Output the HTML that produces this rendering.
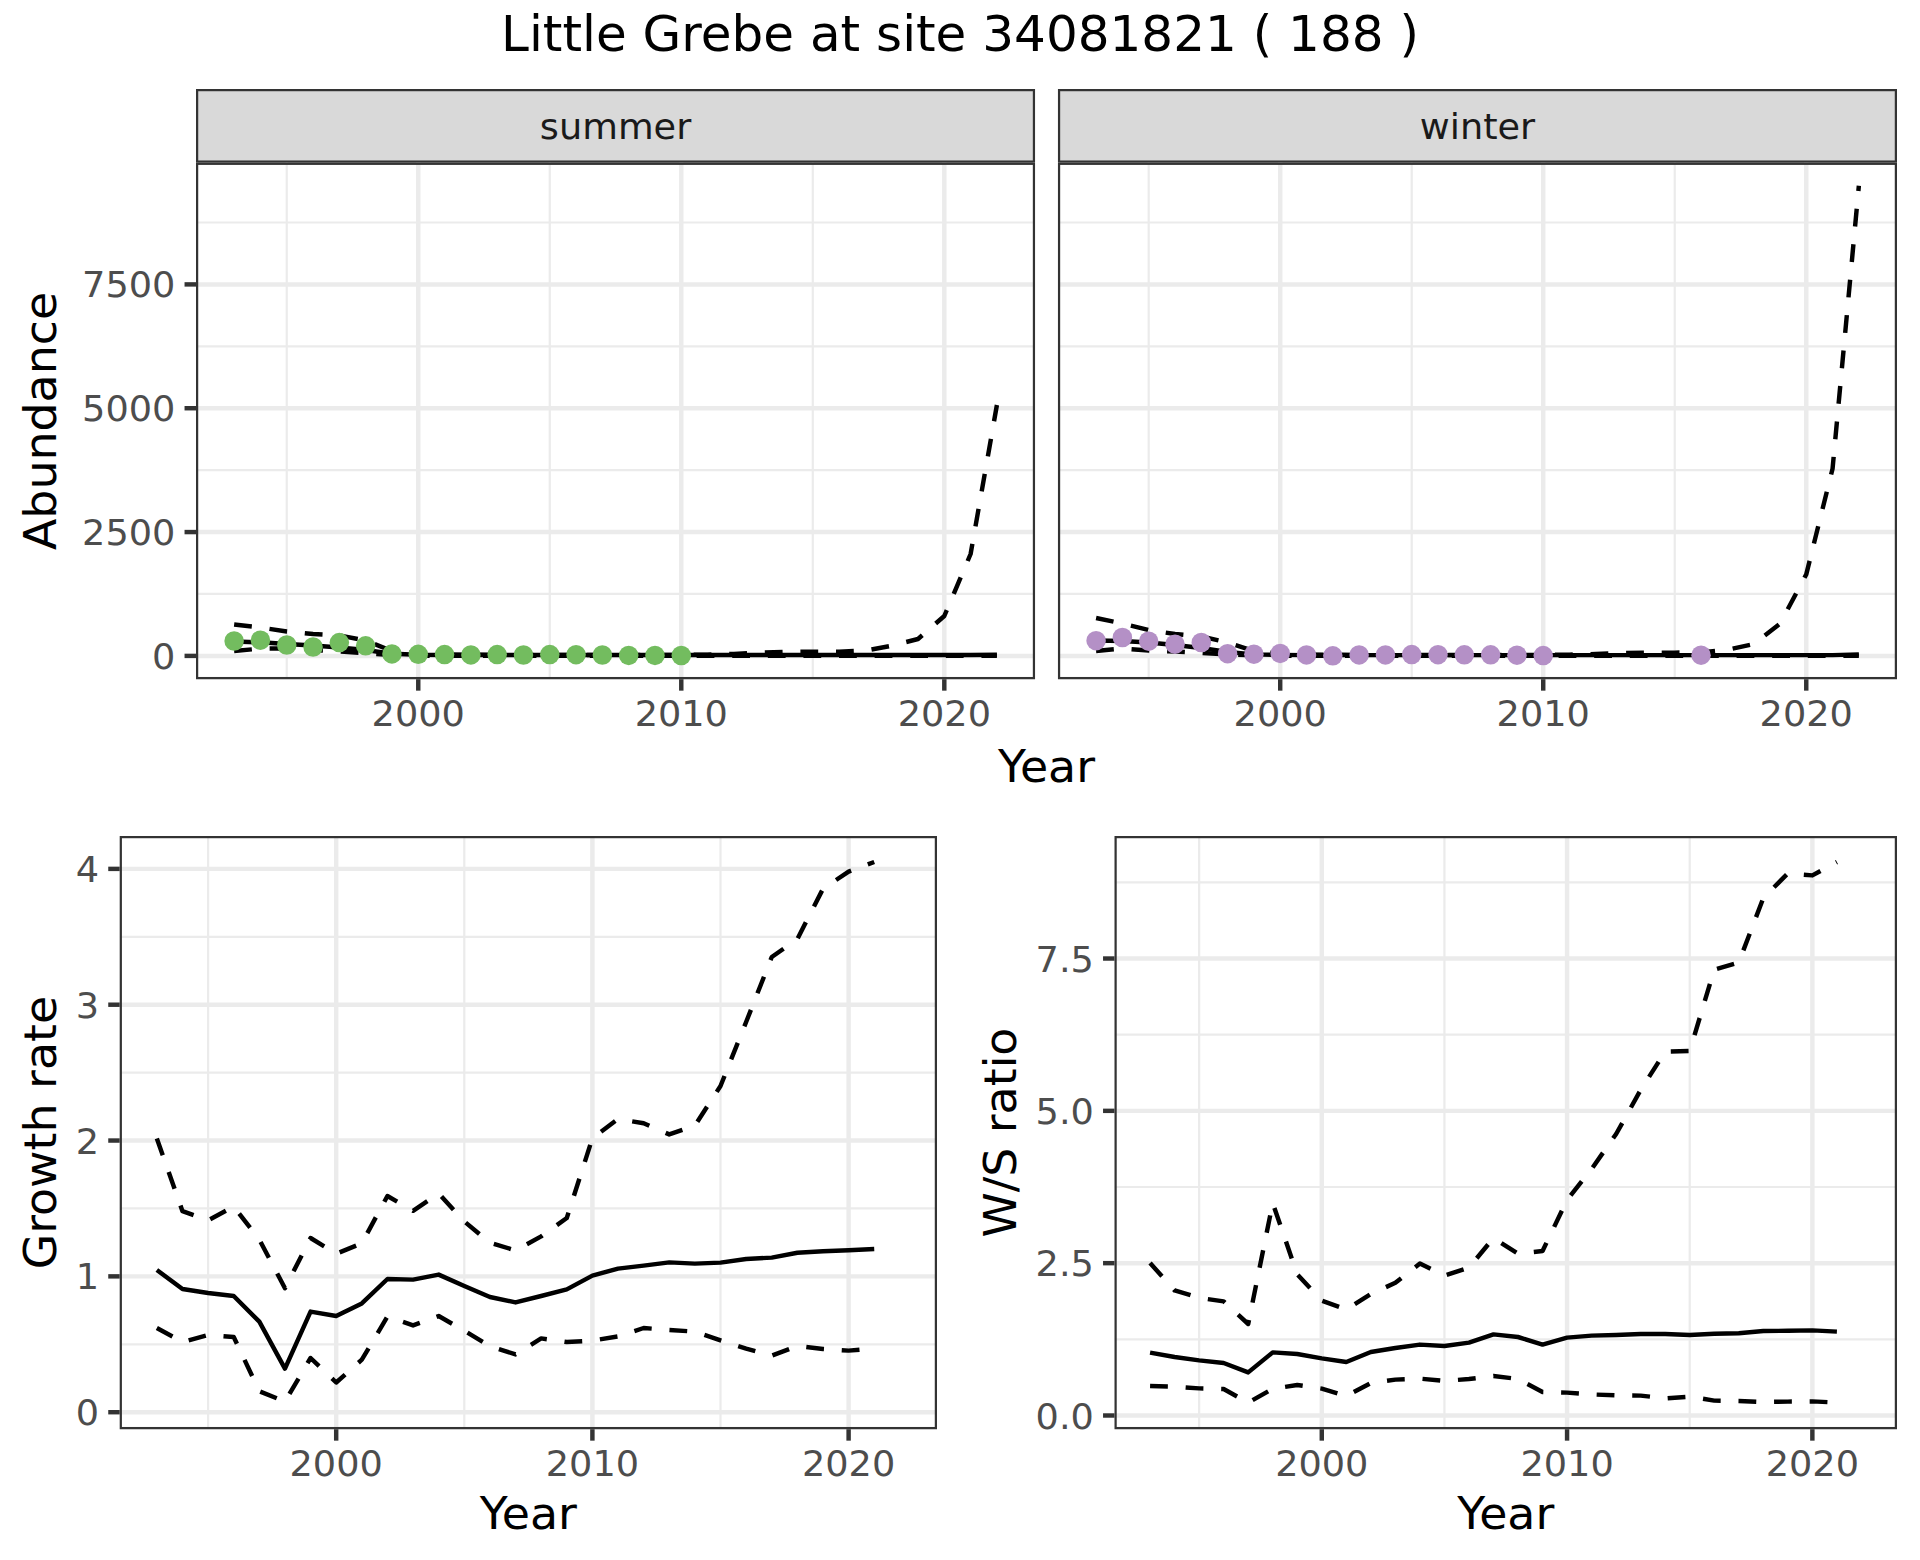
<!DOCTYPE html>
<html lang="en">
<head>
<meta charset="utf-8">
<title>Little Grebe at site 34081821 ( 188 )</title>
<style>
html,body{margin:0;padding:0;background:#fff;}
body{width:1920px;height:1560px;overflow:hidden;}
svg{display:block;}
text{font-family:'DejaVu Sans','Liberation Sans',sans-serif;}
</style>
</head>
<body>
<svg width="1920" height="1560" viewBox="0 0 1920 1560" font-family="'DejaVu Sans','Liberation Sans',sans-serif">
<rect width="1920" height="1560" fill="#fff"/>
<text x="960" y="51" font-size="50" fill="#000" text-anchor="middle">Little Grebe at site 34081821 ( 188 )</text>
<clipPath id="c1"><rect x="196" y="89" width="839.05" height="73.7"/></clipPath>
<rect x="196" y="89" width="839.05" height="73.7" fill="#D9D9D9" stroke="#333333" stroke-width="4.45" clip-path="url(#c1)"/>
<text transform="translate(615.52 138.5) scale(1 0.965)" font-size="36.67" fill="#1A1A1A" text-anchor="middle">summer</text>
<clipPath id="c2"><rect x="196" y="162.7" width="839.05" height="516.5"/></clipPath>
<g clip-path="url(#c2)">
<rect x="196" y="162.7" width="839.05" height="516.5" fill="#fff"/>
<line x1="196" x2="1035.05" y1="593.98" y2="593.98" stroke="#EBEBEB" stroke-width="2.22"/>
<line x1="196" x2="1035.05" y1="470.15" y2="470.15" stroke="#EBEBEB" stroke-width="2.22"/>
<line x1="196" x2="1035.05" y1="346.32" y2="346.32" stroke="#EBEBEB" stroke-width="2.22"/>
<line x1="196" x2="1035.05" y1="222.49" y2="222.49" stroke="#EBEBEB" stroke-width="2.22"/>
<line x1="286.74" x2="286.74" y1="162.7" y2="679.2" stroke="#EBEBEB" stroke-width="2.22"/>
<line x1="549.77" x2="549.77" y1="162.7" y2="679.2" stroke="#EBEBEB" stroke-width="2.22"/>
<line x1="812.79" x2="812.79" y1="162.7" y2="679.2" stroke="#EBEBEB" stroke-width="2.22"/>
<line x1="196" x2="1035.05" y1="655.9" y2="655.9" stroke="#EBEBEB" stroke-width="4.45"/>
<line x1="196" x2="1035.05" y1="532.07" y2="532.07" stroke="#EBEBEB" stroke-width="4.45"/>
<line x1="196" x2="1035.05" y1="408.23" y2="408.23" stroke="#EBEBEB" stroke-width="4.45"/>
<line x1="196" x2="1035.05" y1="284.4" y2="284.4" stroke="#EBEBEB" stroke-width="4.45"/>
<line x1="418.26" x2="418.26" y1="162.7" y2="679.2" stroke="#EBEBEB" stroke-width="4.45"/>
<line x1="681.28" x2="681.28" y1="162.7" y2="679.2" stroke="#EBEBEB" stroke-width="4.45"/>
<line x1="944.31" x2="944.31" y1="162.7" y2="679.2" stroke="#EBEBEB" stroke-width="4.45"/>
<path d="M234.14 641.5 L260.44 642.3 L286.74 644 L313.05 645.5 L339.35 647.5 L365.65 650 L391.95 653.7 L418.26 654.8 L444.56 655 L470.86 655 L497.16 655 L523.47 655 L549.77 655 L576.07 655 L602.37 655 L628.68 655 L654.98 655 L681.28 655 L707.58 655 L733.89 655 L760.19 655 L786.49 655 L812.79 655 L839.1 655 L865.4 655 L891.7 655 L918 655 L944.31 655 L970.61 655 L996.91 654.8" fill="none" stroke="#000" stroke-width="4.45" stroke-linejoin="round"/>
<path d="M234.14 651 L260.44 648.6 L286.74 648.5 L313.05 650 L339.35 651.5 L365.65 653.2 L391.95 655 L418.26 655.6 L444.56 655.8 L470.86 655.8 L497.16 655.8 L523.47 655.8 L549.77 655.8 L576.07 655.8 L602.37 655.8 L628.68 655.8 L654.98 655.8 L681.28 655.8 L707.58 655.8 L733.89 655.8 L760.19 655.8 L786.49 655.8 L812.79 655.8 L839.1 655.8 L865.4 655.8 L891.7 655.8 L918 655.8 L944.31 655.8 L970.61 655.8 L996.91 655.8" fill="none" stroke="#000" stroke-width="4.45" stroke-linejoin="round" stroke-dasharray="17.8 17.8"/>
<path d="M234.14 624.5 L260.44 627.5 L286.74 631.5 L313.05 634 L339.35 635.5 L365.65 640.5 L391.95 651 L418.26 653.8 L444.56 654.5 L470.86 654.8 L497.16 654.9 L523.47 655 L549.77 655 L576.07 655 L602.37 655 L628.68 655 L654.98 655 L681.28 655 L707.58 654.6 L733.89 653.9 L760.19 652.6 L786.49 651.9 L812.79 651.6 L839.1 651.6 L865.4 650.6 L891.7 645.7 L918 639 L944.31 616 L970.61 554 L996.91 405" fill="none" stroke="#000" stroke-width="4.45" stroke-linejoin="round" stroke-dasharray="17.8 17.8"/>
<circle cx="234.14" cy="641" r="9.75" fill="#73BC5F"/>
<circle cx="260.44" cy="640.2" r="9.75" fill="#73BC5F"/>
<circle cx="286.74" cy="645" r="9.75" fill="#73BC5F"/>
<circle cx="313.05" cy="647" r="9.75" fill="#73BC5F"/>
<circle cx="339.35" cy="642.6" r="9.75" fill="#73BC5F"/>
<circle cx="365.65" cy="645.8" r="9.75" fill="#73BC5F"/>
<circle cx="391.95" cy="653.9" r="9.75" fill="#73BC5F"/>
<circle cx="418.26" cy="654.3" r="9.75" fill="#73BC5F"/>
<circle cx="444.56" cy="654.6" r="9.75" fill="#73BC5F"/>
<circle cx="470.86" cy="654.9" r="9.75" fill="#73BC5F"/>
<circle cx="497.16" cy="654.6" r="9.75" fill="#73BC5F"/>
<circle cx="523.47" cy="655" r="9.75" fill="#73BC5F"/>
<circle cx="549.77" cy="654.6" r="9.75" fill="#73BC5F"/>
<circle cx="576.07" cy="654.7" r="9.75" fill="#73BC5F"/>
<circle cx="602.37" cy="655" r="9.75" fill="#73BC5F"/>
<circle cx="628.68" cy="655.4" r="9.75" fill="#73BC5F"/>
<circle cx="654.98" cy="655.4" r="9.75" fill="#73BC5F"/>
<circle cx="681.28" cy="655.5" r="9.75" fill="#73BC5F"/>
<rect x="196" y="162.7" width="839.05" height="516.5" fill="none" stroke="#333333" stroke-width="4.45"/>
</g>
<line x1="418.26" x2="418.26" y1="679.2" y2="690.66" stroke="#333333" stroke-width="4.45"/>
<text transform="translate(418.26 725.5) scale(1 0.965)" font-size="36.67" fill="#4D4D4D" text-anchor="middle">2000</text>
<line x1="681.28" x2="681.28" y1="679.2" y2="690.66" stroke="#333333" stroke-width="4.45"/>
<text transform="translate(681.28 725.5) scale(1 0.965)" font-size="36.67" fill="#4D4D4D" text-anchor="middle">2010</text>
<line x1="944.31" x2="944.31" y1="679.2" y2="690.66" stroke="#333333" stroke-width="4.45"/>
<text transform="translate(944.31 725.5) scale(1 0.965)" font-size="36.67" fill="#4D4D4D" text-anchor="middle">2020</text>
<clipPath id="c3"><rect x="1057.95" y="89" width="839.05" height="73.7"/></clipPath>
<rect x="1057.95" y="89" width="839.05" height="73.7" fill="#D9D9D9" stroke="#333333" stroke-width="4.45" clip-path="url(#c3)"/>
<text transform="translate(1477.47 138.5) scale(1 0.965)" font-size="36.67" fill="#1A1A1A" text-anchor="middle">winter</text>
<clipPath id="c4"><rect x="1057.95" y="162.7" width="839.05" height="516.5"/></clipPath>
<g clip-path="url(#c4)">
<rect x="1057.95" y="162.7" width="839.05" height="516.5" fill="#fff"/>
<line x1="1057.95" x2="1897" y1="593.98" y2="593.98" stroke="#EBEBEB" stroke-width="2.22"/>
<line x1="1057.95" x2="1897" y1="470.15" y2="470.15" stroke="#EBEBEB" stroke-width="2.22"/>
<line x1="1057.95" x2="1897" y1="346.32" y2="346.32" stroke="#EBEBEB" stroke-width="2.22"/>
<line x1="1057.95" x2="1897" y1="222.49" y2="222.49" stroke="#EBEBEB" stroke-width="2.22"/>
<line x1="1148.69" x2="1148.69" y1="162.7" y2="679.2" stroke="#EBEBEB" stroke-width="2.22"/>
<line x1="1411.72" x2="1411.72" y1="162.7" y2="679.2" stroke="#EBEBEB" stroke-width="2.22"/>
<line x1="1674.74" x2="1674.74" y1="162.7" y2="679.2" stroke="#EBEBEB" stroke-width="2.22"/>
<line x1="1057.95" x2="1897" y1="655.9" y2="655.9" stroke="#EBEBEB" stroke-width="4.45"/>
<line x1="1057.95" x2="1897" y1="532.07" y2="532.07" stroke="#EBEBEB" stroke-width="4.45"/>
<line x1="1057.95" x2="1897" y1="408.23" y2="408.23" stroke="#EBEBEB" stroke-width="4.45"/>
<line x1="1057.95" x2="1897" y1="284.4" y2="284.4" stroke="#EBEBEB" stroke-width="4.45"/>
<line x1="1280.21" x2="1280.21" y1="162.7" y2="679.2" stroke="#EBEBEB" stroke-width="4.45"/>
<line x1="1543.23" x2="1543.23" y1="162.7" y2="679.2" stroke="#EBEBEB" stroke-width="4.45"/>
<line x1="1806.26" x2="1806.26" y1="162.7" y2="679.2" stroke="#EBEBEB" stroke-width="4.45"/>
<path d="M1096.09 640.5 L1122.39 641 L1148.69 642.5 L1175 645 L1201.3 648 L1227.6 652 L1253.9 654.4 L1280.21 654.9 L1306.51 655.1 L1332.81 655.1 L1359.11 655.1 L1385.42 655.1 L1411.72 655.1 L1438.02 655.1 L1464.32 655.1 L1490.63 655.1 L1516.93 655.1 L1543.23 655.1 L1569.53 655.1 L1595.84 655.1 L1622.14 655.1 L1648.44 655.1 L1674.74 655.1 L1701.05 655.1 L1727.35 655.1 L1753.65 655.1 L1779.95 655.1 L1806.26 655.1 L1832.56 655.1 L1858.86 654.4" fill="none" stroke="#000" stroke-width="4.45" stroke-linejoin="round"/>
<path d="M1096.09 651 L1122.39 648.5 L1148.69 650.5 L1175 651.5 L1201.3 653 L1227.6 654.5 L1253.9 655.4 L1280.21 655.7 L1306.51 655.8 L1332.81 655.8 L1359.11 655.8 L1385.42 655.8 L1411.72 655.8 L1438.02 655.8 L1464.32 655.8 L1490.63 655.8 L1516.93 655.8 L1543.23 655.8 L1569.53 655.8 L1595.84 655.8 L1622.14 655.8 L1648.44 655.8 L1674.74 655.8 L1701.05 655.8 L1727.35 655.8 L1753.65 655.8 L1779.95 655.8 L1806.26 655.8 L1832.56 655.8 L1858.86 655.8" fill="none" stroke="#000" stroke-width="4.45" stroke-linejoin="round" stroke-dasharray="17.8 17.8"/>
<path d="M1096.09 618 L1122.39 623.5 L1148.69 630 L1175 634 L1201.3 636.5 L1227.6 642.5 L1253.9 651 L1280.21 653.8 L1306.51 654.5 L1332.81 654.8 L1359.11 654.9 L1385.42 655 L1411.72 655 L1438.02 655 L1464.32 655 L1490.63 655 L1516.93 655 L1543.23 655 L1569.53 654.6 L1595.84 654 L1622.14 653 L1648.44 652.6 L1674.74 652.6 L1701.05 652.4 L1727.35 649.8 L1753.65 644 L1779.95 623.8 L1806.26 574.4 L1832.56 468.7 L1858.86 185.8" fill="none" stroke="#000" stroke-width="4.45" stroke-linejoin="round" stroke-dasharray="17.8 17.8"/>
<circle cx="1096.09" cy="640.7" r="9.75" fill="#B490C6"/>
<circle cx="1122.39" cy="637.5" r="9.75" fill="#B490C6"/>
<circle cx="1148.69" cy="641.2" r="9.75" fill="#B490C6"/>
<circle cx="1175" cy="644.2" r="9.75" fill="#B490C6"/>
<circle cx="1201.3" cy="642.5" r="9.75" fill="#B490C6"/>
<circle cx="1227.6" cy="653.7" r="9.75" fill="#B490C6"/>
<circle cx="1253.9" cy="654.2" r="9.75" fill="#B490C6"/>
<circle cx="1280.21" cy="653.4" r="9.75" fill="#B490C6"/>
<circle cx="1306.51" cy="654.9" r="9.75" fill="#B490C6"/>
<circle cx="1332.81" cy="655.8" r="9.75" fill="#B490C6"/>
<circle cx="1359.11" cy="654.9" r="9.75" fill="#B490C6"/>
<circle cx="1385.42" cy="654.9" r="9.75" fill="#B490C6"/>
<circle cx="1411.72" cy="654.6" r="9.75" fill="#B490C6"/>
<circle cx="1438.02" cy="654.7" r="9.75" fill="#B490C6"/>
<circle cx="1464.32" cy="654.8" r="9.75" fill="#B490C6"/>
<circle cx="1490.63" cy="654.8" r="9.75" fill="#B490C6"/>
<circle cx="1516.93" cy="655.2" r="9.75" fill="#B490C6"/>
<circle cx="1543.23" cy="655.6" r="9.75" fill="#B490C6"/>
<circle cx="1701.05" cy="655.2" r="9.75" fill="#B490C6"/>
<rect x="1057.95" y="162.7" width="839.05" height="516.5" fill="none" stroke="#333333" stroke-width="4.45"/>
</g>
<line x1="1280.21" x2="1280.21" y1="679.2" y2="690.66" stroke="#333333" stroke-width="4.45"/>
<text transform="translate(1280.21 725.5) scale(1 0.965)" font-size="36.67" fill="#4D4D4D" text-anchor="middle">2000</text>
<line x1="1543.23" x2="1543.23" y1="679.2" y2="690.66" stroke="#333333" stroke-width="4.45"/>
<text transform="translate(1543.23 725.5) scale(1 0.965)" font-size="36.67" fill="#4D4D4D" text-anchor="middle">2010</text>
<line x1="1806.26" x2="1806.26" y1="679.2" y2="690.66" stroke="#333333" stroke-width="4.45"/>
<text transform="translate(1806.26 725.5) scale(1 0.965)" font-size="36.67" fill="#4D4D4D" text-anchor="middle">2020</text>
<line x1="184.54" x2="196" y1="655.9" y2="655.9" stroke="#333333" stroke-width="4.45"/>
<text transform="translate(175.37 668.6) scale(1 0.965)" font-size="36.67" fill="#4D4D4D" text-anchor="end">0</text>
<line x1="184.54" x2="196" y1="532.07" y2="532.07" stroke="#333333" stroke-width="4.45"/>
<text transform="translate(175.37 544.6) scale(1 0.965)" font-size="36.67" fill="#4D4D4D" text-anchor="end">2500</text>
<line x1="184.54" x2="196" y1="408.23" y2="408.23" stroke="#333333" stroke-width="4.45"/>
<text transform="translate(175.37 420.6) scale(1 0.965)" font-size="36.67" fill="#4D4D4D" text-anchor="end">5000</text>
<line x1="184.54" x2="196" y1="284.4" y2="284.4" stroke="#333333" stroke-width="4.45"/>
<text transform="translate(175.37 296.6) scale(1 0.965)" font-size="36.67" fill="#4D4D4D" text-anchor="end">7500</text>
<text transform="translate(1046.5 782) scale(1 0.965)" font-size="45.83" fill="#000" text-anchor="middle">Year</text>
<text transform="translate(56.1 420.95) rotate(-90) scale(1 0.965)" font-size="45.83" fill="#000" text-anchor="middle">Abundance</text>
<clipPath id="c5"><rect x="119.7" y="836" width="817.3" height="593.2"/></clipPath>
<g clip-path="url(#c5)">
<rect x="119.7" y="836" width="817.3" height="593.2" fill="#fff"/>
<line x1="119.7" x2="937" y1="1344.29" y2="1344.29" stroke="#EBEBEB" stroke-width="2.22"/>
<line x1="119.7" x2="937" y1="1208.45" y2="1208.45" stroke="#EBEBEB" stroke-width="2.22"/>
<line x1="119.7" x2="937" y1="1072.62" y2="1072.62" stroke="#EBEBEB" stroke-width="2.22"/>
<line x1="119.7" x2="937" y1="936.8" y2="936.8" stroke="#EBEBEB" stroke-width="2.22"/>
<line x1="208.09" x2="208.09" y1="836" y2="1429.2" stroke="#EBEBEB" stroke-width="2.22"/>
<line x1="464.3" x2="464.3" y1="836" y2="1429.2" stroke="#EBEBEB" stroke-width="2.22"/>
<line x1="720.51" x2="720.51" y1="836" y2="1429.2" stroke="#EBEBEB" stroke-width="2.22"/>
<line x1="119.7" x2="937" y1="1412.2" y2="1412.2" stroke="#EBEBEB" stroke-width="4.45"/>
<line x1="119.7" x2="937" y1="1276.37" y2="1276.37" stroke="#EBEBEB" stroke-width="4.45"/>
<line x1="119.7" x2="937" y1="1140.54" y2="1140.54" stroke="#EBEBEB" stroke-width="4.45"/>
<line x1="119.7" x2="937" y1="1004.71" y2="1004.71" stroke="#EBEBEB" stroke-width="4.45"/>
<line x1="119.7" x2="937" y1="868.88" y2="868.88" stroke="#EBEBEB" stroke-width="4.45"/>
<line x1="336.19" x2="336.19" y1="836" y2="1429.2" stroke="#EBEBEB" stroke-width="4.45"/>
<line x1="592.4" x2="592.4" y1="836" y2="1429.2" stroke="#EBEBEB" stroke-width="4.45"/>
<line x1="848.61" x2="848.61" y1="836" y2="1429.2" stroke="#EBEBEB" stroke-width="4.45"/>
<path d="M156.85 1270 L182.47 1289 L208.09 1293 L233.71 1296 L259.33 1321.6 L284.95 1368.6 L310.57 1311.6 L336.19 1316 L361.82 1303.4 L387.44 1279 L413.06 1279.6 L438.68 1274.6 L464.3 1286 L489.92 1297 L515.54 1302.4 L541.16 1296 L566.78 1289.4 L592.4 1275.6 L618.02 1268.6 L643.64 1265.6 L669.26 1262.4 L694.88 1263.6 L720.51 1262.6 L746.13 1259 L771.75 1257.6 L797.37 1252.8 L822.99 1251.2 L848.61 1250.2 L874.23 1249" fill="none" stroke="#000" stroke-width="4.45" stroke-linejoin="round"/>
<path d="M156.85 1328 L182.47 1342 L208.09 1335 L233.71 1337 L259.33 1391.2 L284.95 1401.6 L310.57 1358 L336.19 1382.5 L361.82 1359.7 L387.44 1316.6 L413.06 1325.4 L438.68 1316 L464.3 1330.8 L489.92 1346.2 L515.54 1354.4 L541.16 1338.4 L566.78 1342 L592.4 1340.6 L618.02 1336.4 L643.64 1328 L669.26 1330 L694.88 1331.6 L720.51 1340.4 L746.13 1348.6 L771.75 1355.6 L797.37 1346 L822.99 1349 L848.61 1350.6 L874.23 1348.4" fill="none" stroke="#000" stroke-width="4.45" stroke-linejoin="round" stroke-dasharray="17.8 17.8"/>
<path d="M156.85 1138.4 L182.47 1211.2 L208.09 1220.4 L233.71 1206.6 L259.33 1239.6 L284.95 1288.2 L310.57 1238 L336.19 1253.8 L361.82 1243.3 L387.44 1196 L413.06 1210.8 L438.68 1193.5 L464.3 1221.4 L489.92 1242.8 L515.54 1250.4 L541.16 1236.4 L566.78 1218 L592.4 1138.2 L618.02 1119 L643.64 1123.3 L669.26 1134.4 L694.88 1125.6 L720.51 1086 L746.13 1022 L771.75 957 L797.37 939 L822.99 888.8 L848.61 871.6 L874.23 862" fill="none" stroke="#000" stroke-width="4.45" stroke-linejoin="round" stroke-dasharray="17.8 17.8"/>
<rect x="119.7" y="836" width="817.3" height="593.2" fill="none" stroke="#333333" stroke-width="4.45"/>
</g>
<line x1="336.19" x2="336.19" y1="1429.2" y2="1440.66" stroke="#333333" stroke-width="4.45"/>
<text transform="translate(336.19 1475.5) scale(1 0.965)" font-size="36.67" fill="#4D4D4D" text-anchor="middle">2000</text>
<line x1="592.4" x2="592.4" y1="1429.2" y2="1440.66" stroke="#333333" stroke-width="4.45"/>
<text transform="translate(592.4 1475.5) scale(1 0.965)" font-size="36.67" fill="#4D4D4D" text-anchor="middle">2010</text>
<line x1="848.61" x2="848.61" y1="1429.2" y2="1440.66" stroke="#333333" stroke-width="4.45"/>
<text transform="translate(848.61 1475.5) scale(1 0.965)" font-size="36.67" fill="#4D4D4D" text-anchor="middle">2020</text>
<line x1="108.24" x2="119.7" y1="1412.2" y2="1412.2" stroke="#333333" stroke-width="4.45"/>
<text transform="translate(99.07 1424.6) scale(1 0.965)" font-size="36.67" fill="#4D4D4D" text-anchor="end">0</text>
<line x1="108.24" x2="119.7" y1="1276.37" y2="1276.37" stroke="#333333" stroke-width="4.45"/>
<text transform="translate(99.07 1288.6) scale(1 0.965)" font-size="36.67" fill="#4D4D4D" text-anchor="end">1</text>
<line x1="108.24" x2="119.7" y1="1140.54" y2="1140.54" stroke="#333333" stroke-width="4.45"/>
<text transform="translate(99.07 1153.6) scale(1 0.965)" font-size="36.67" fill="#4D4D4D" text-anchor="end">2</text>
<line x1="108.24" x2="119.7" y1="1004.71" y2="1004.71" stroke="#333333" stroke-width="4.45"/>
<text transform="translate(99.07 1017.6) scale(1 0.965)" font-size="36.67" fill="#4D4D4D" text-anchor="end">3</text>
<line x1="108.24" x2="119.7" y1="868.88" y2="868.88" stroke="#333333" stroke-width="4.45"/>
<text transform="translate(99.07 881.6) scale(1 0.965)" font-size="36.67" fill="#4D4D4D" text-anchor="end">4</text>
<text transform="translate(528.35 1528.8) scale(1 0.965)" font-size="45.83" fill="#000" text-anchor="middle">Year</text>
<text transform="translate(56.2 1132.6) rotate(-90) scale(1 0.965)" font-size="45.83" fill="#000" text-anchor="middle">Growth rate</text>
<clipPath id="c6"><rect x="1114.5" y="836" width="782.5" height="593.2"/></clipPath>
<g clip-path="url(#c6)">
<rect x="1114.5" y="836" width="782.5" height="593.2" fill="#fff"/>
<line x1="1114.5" x2="1897" y1="1339.34" y2="1339.34" stroke="#EBEBEB" stroke-width="2.22"/>
<line x1="1114.5" x2="1897" y1="1187.01" y2="1187.01" stroke="#EBEBEB" stroke-width="2.22"/>
<line x1="1114.5" x2="1897" y1="1034.69" y2="1034.69" stroke="#EBEBEB" stroke-width="2.22"/>
<line x1="1114.5" x2="1897" y1="882.36" y2="882.36" stroke="#EBEBEB" stroke-width="2.22"/>
<line x1="1199.13" x2="1199.13" y1="836" y2="1429.2" stroke="#EBEBEB" stroke-width="2.22"/>
<line x1="1444.43" x2="1444.43" y1="836" y2="1429.2" stroke="#EBEBEB" stroke-width="2.22"/>
<line x1="1689.72" x2="1689.72" y1="836" y2="1429.2" stroke="#EBEBEB" stroke-width="2.22"/>
<line x1="1114.5" x2="1897" y1="1415.5" y2="1415.5" stroke="#EBEBEB" stroke-width="4.45"/>
<line x1="1114.5" x2="1897" y1="1263.17" y2="1263.17" stroke="#EBEBEB" stroke-width="4.45"/>
<line x1="1114.5" x2="1897" y1="1110.85" y2="1110.85" stroke="#EBEBEB" stroke-width="4.45"/>
<line x1="1114.5" x2="1897" y1="958.52" y2="958.52" stroke="#EBEBEB" stroke-width="4.45"/>
<line x1="1321.78" x2="1321.78" y1="836" y2="1429.2" stroke="#EBEBEB" stroke-width="4.45"/>
<line x1="1567.07" x2="1567.07" y1="836" y2="1429.2" stroke="#EBEBEB" stroke-width="4.45"/>
<line x1="1812.37" x2="1812.37" y1="836" y2="1429.2" stroke="#EBEBEB" stroke-width="4.45"/>
<path d="M1150.07 1352.6 L1174.6 1357 L1199.13 1360.4 L1223.66 1363 L1248.19 1372.4 L1272.72 1352.4 L1297.25 1354 L1321.78 1358.4 L1346.31 1362 L1370.84 1352 L1395.37 1348 L1419.9 1344.6 L1444.43 1346 L1468.96 1342.6 L1493.49 1334.4 L1518.01 1337 L1542.54 1344.6 L1567.07 1337.6 L1591.6 1335.6 L1616.13 1335 L1640.66 1334 L1665.19 1334 L1689.72 1335 L1714.25 1333.8 L1738.78 1333.2 L1763.31 1331 L1787.84 1330.8 L1812.37 1330.4 L1836.9 1331.6" fill="none" stroke="#000" stroke-width="4.45" stroke-linejoin="round"/>
<path d="M1150.07 1386 L1174.6 1386.6 L1199.13 1388.4 L1223.66 1389 L1248.19 1402.6 L1272.72 1388.8 L1297.25 1385 L1321.78 1388.6 L1346.31 1396 L1370.84 1383 L1395.37 1379.6 L1419.9 1378.6 L1444.43 1381 L1468.96 1379 L1493.49 1376 L1518.01 1379 L1542.54 1392 L1567.07 1392.6 L1591.6 1394.4 L1616.13 1395.4 L1640.66 1395.6 L1665.19 1398.4 L1689.72 1396.6 L1714.25 1400.6 L1738.78 1401 L1763.31 1402 L1787.84 1401.6 L1812.37 1401.4 L1836.9 1402.6" fill="none" stroke="#000" stroke-width="4.45" stroke-linejoin="round" stroke-dasharray="17.8 17.8"/>
<path d="M1150.07 1263 L1174.6 1290.4 L1199.13 1297.8 L1223.66 1301.4 L1248.19 1324 L1272.72 1203 L1297.25 1274.4 L1321.78 1300.6 L1346.31 1309.6 L1370.84 1294 L1395.37 1282.8 L1419.9 1263.6 L1444.43 1275.6 L1468.96 1267.6 L1493.49 1238 L1518.01 1253.6 L1542.54 1251 L1567.07 1200 L1591.6 1169 L1616.13 1134 L1640.66 1090 L1665.19 1051.6 L1689.72 1051 L1714.25 969.6 L1738.78 962.4 L1763.31 898 L1787.84 873.4 L1812.37 875.4 L1836.9 862" fill="none" stroke="#000" stroke-width="4.45" stroke-linejoin="round" stroke-dasharray="17.8 17.8"/>
<rect x="1114.5" y="836" width="782.5" height="593.2" fill="none" stroke="#333333" stroke-width="4.45"/>
</g>
<line x1="1321.78" x2="1321.78" y1="1429.2" y2="1440.66" stroke="#333333" stroke-width="4.45"/>
<text transform="translate(1321.78 1475.5) scale(1 0.965)" font-size="36.67" fill="#4D4D4D" text-anchor="middle">2000</text>
<line x1="1567.07" x2="1567.07" y1="1429.2" y2="1440.66" stroke="#333333" stroke-width="4.45"/>
<text transform="translate(1567.07 1475.5) scale(1 0.965)" font-size="36.67" fill="#4D4D4D" text-anchor="middle">2010</text>
<line x1="1812.37" x2="1812.37" y1="1429.2" y2="1440.66" stroke="#333333" stroke-width="4.45"/>
<text transform="translate(1812.37 1475.5) scale(1 0.965)" font-size="36.67" fill="#4D4D4D" text-anchor="middle">2020</text>
<line x1="1103.04" x2="1114.5" y1="1415.5" y2="1415.5" stroke="#333333" stroke-width="4.45"/>
<text transform="translate(1093.87 1428.6) scale(1 0.965)" font-size="36.67" fill="#4D4D4D" text-anchor="end">0.0</text>
<line x1="1103.04" x2="1114.5" y1="1263.17" y2="1263.17" stroke="#333333" stroke-width="4.45"/>
<text transform="translate(1093.87 1275.6) scale(1 0.965)" font-size="36.67" fill="#4D4D4D" text-anchor="end">2.5</text>
<line x1="1103.04" x2="1114.5" y1="1110.85" y2="1110.85" stroke="#333333" stroke-width="4.45"/>
<text transform="translate(1093.87 1123.6) scale(1 0.965)" font-size="36.67" fill="#4D4D4D" text-anchor="end">5.0</text>
<line x1="1103.04" x2="1114.5" y1="958.52" y2="958.52" stroke="#333333" stroke-width="4.45"/>
<text transform="translate(1093.87 971.6) scale(1 0.965)" font-size="36.67" fill="#4D4D4D" text-anchor="end">7.5</text>
<text transform="translate(1505.75 1528.8) scale(1 0.965)" font-size="45.83" fill="#000" text-anchor="middle">Year</text>
<text transform="translate(1016.3 1132.6) rotate(-90) scale(1 0.965)" font-size="45.83" fill="#000" text-anchor="middle">W/S ratio</text>
</svg>
</body>
</html>
